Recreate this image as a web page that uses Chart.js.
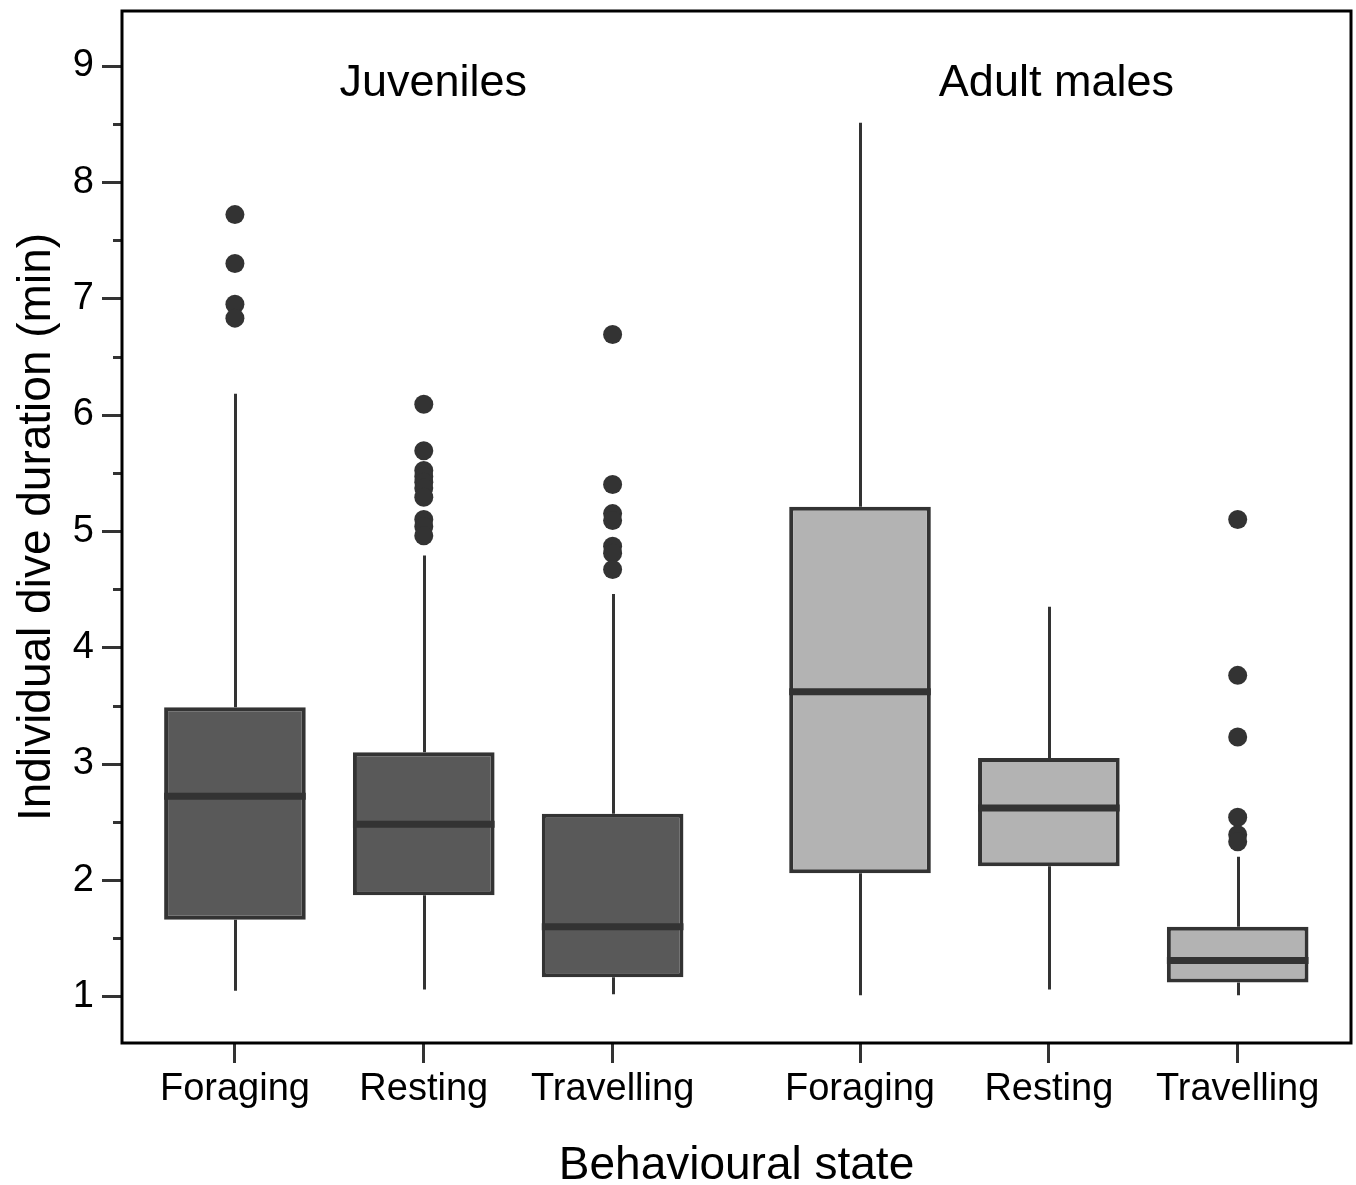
<!DOCTYPE html>
<html>
<head>
<meta charset="utf-8">
<script src="https://cdn.jsdelivr.net/npm/chart.js@4.4.1/dist/chart.umd.min.js"></script>
<style>
  html, body { margin: 0; padding: 0; background: #ffffff; }
  #wrap { width: 1356px; height: 1185px; }
</style>
</head>
<body>
<div id="wrap"><canvas id="c" width="1356" height="1185"></canvas></div>
<script>
// Dive duration summaries per behavioural state, for two age/sex classes
const groups      = ['Juveniles', 'Adult males'];
const states      = ['Foraging', 'Resting', 'Travelling'];
const boxGroup    = [0, 0, 0, 1, 1, 1];
const boxState    = [0, 1, 2, 0, 1, 2];

const whiskerLow  = [1.05, 1.06, 1.02, 1.01, 1.06, 1.01];
const q1          = [1.66, 1.87, 1.165, 2.06, 2.12, 1.12];
const median      = [2.72, 2.48, 1.60, 3.62, 2.62, 1.31];
const q3          = [3.485, 3.10, 2.57, 5.21, 3.05, 1.60];
const whiskerHigh = [6.18, 4.79, 4.46, 8.51, 4.35, 2.20];
const outliers    = [
  [7.72, 7.30, 6.95, 6.83],
  [6.09, 5.69, 5.52, 5.47, 5.42, 5.37, 5.29, 5.10, 5.04, 4.96],
  [6.69, 5.40, 5.15, 5.09, 4.87, 4.81, 4.67],
  [],
  [],
  [5.10, 3.76, 3.23, 2.54, 2.39, 2.33]
];

const yTicks = [1, 1.5, 2, 2.5, 3, 3.5, 4, 4.5, 5, 5.5, 6, 6.5, 7, 7.5, 8, 8.5, 9];
const yTitle = 'Individual dive duration (min)';
const xTitle = 'Behavioural state';

// Slot positions along x: three boxes per group with a wider gap between groups
const GROUP_GAP = 0.31;
const slot = boxGroup.map((g, i) => g * (states.length + GROUP_GAP) + boxState[i]);

const groupFill = ['#595959', '#b3b3b3'];
const INK = '#333333';
const FONT = "'Liberation Sans', Arial, Helvetica, sans-serif";

const boxData = slot.map((x, i) => ({ x: x, y: [q1[i], q3[i]] }));
const outlierData = [];
outliers.forEach((list, i) => list.forEach(v => outlierData.push({ x: slot[i], y: v })));

const boxPlotParts = {
  id: 'boxPlotParts',
  beforeDatasetsDraw(chart) {
    const { ctx, scales: { x, y } } = chart;
    ctx.save();
    ctx.strokeStyle = INK;
    ctx.lineWidth = 3;
    ctx.lineCap = 'butt';
    slot.forEach((s, i) => {
      const px = Math.round(x.getPixelForValue(s)) + 0.5;
      ctx.beginPath();
      ctx.moveTo(px, y.getPixelForValue(whiskerLow[i]));
      ctx.lineTo(px, y.getPixelForValue(q1[i]));
      ctx.moveTo(px, y.getPixelForValue(q3[i]));
      ctx.lineTo(px, y.getPixelForValue(whiskerHigh[i]));
      ctx.stroke();
    });
    ctx.restore();
  },
  afterDatasetsDraw(chart) {
    const { ctx, scales: { y } } = chart;
    const meta = chart.getDatasetMeta(0);
    ctx.save();
    ctx.strokeStyle = INK;
    ctx.lineWidth = 7;
    meta.data.forEach((bar, i) => {
      const half = bar.width / 2;
      const py = y.getPixelForValue(median[i]);
      ctx.beginPath();
      ctx.moveTo(bar.x - half, py);
      ctx.lineTo(bar.x + half, py);
      ctx.stroke();
    });
    ctx.restore();
  },
  afterDraw(chart) {
    const { ctx, chartArea: a, scales: { x, y } } = chart;
    ctx.save();
    // y tick marks: long at whole minutes, short at half minutes
    ctx.strokeStyle = INK;
    ctx.lineWidth = 3;
    y.ticks.forEach(t => {
      const py = Math.round(y.getPixelForValue(t.value)) + 0.5;
      const len = Number.isInteger(t.value) ? 20 : 9;
      ctx.beginPath();
      ctx.moveTo(a.left - len, py);
      ctx.lineTo(a.left, py);
      ctx.stroke();
    });
    // panel frame
    ctx.strokeStyle = '#000000';
    ctx.lineWidth = 3;
    ctx.strokeRect(a.left, a.top, a.right - a.left, a.bottom - a.top);
    // group headings
    ctx.fillStyle = '#000000';
    ctx.font = '45px ' + FONT;
    ctx.textAlign = 'center';
    ctx.textBaseline = 'middle';
    const headX = [1.05, 4.35];
    groups.forEach((g, k) => {
      ctx.fillText(g, x.getPixelForValue(headX[k]), y.getPixelForValue(8.85));
    });
    ctx.restore();
  }
};

new Chart(document.getElementById('c'), {
  type: 'bar',
  data: {
    datasets: [
      {
        type: 'bar',
        data: boxData,
        backgroundColor: boxGroup.map(g => groupFill[g]),
        borderColor: INK,
        borderWidth: 4,
        borderSkipped: false,
        grouped: false,
        barPercentage: 0.75,
        categoryPercentage: 1.0
      },
      {
        type: 'scatter',
        data: outlierData,
        pointRadius: 9.5,
        pointBackgroundColor: INK,
        pointBorderWidth: 0,
        showLine: false
      }
    ]
  },
  plugins: [boxPlotParts],
  options: {
    responsive: false,
    animation: false,
    layout: { autoPadding: false, padding: { top: 11, right: 5, left: 0, bottom: 0 } },
    plugins: { legend: { display: false }, tooltip: { enabled: false } },
    scales: {
      x: {
        type: 'linear',
        offset: false,
        min: -0.598,
        max: 5.91,
        afterBuildTicks(scale) { scale.ticks = slot.map(v => ({ value: v })); },
        afterFit(scale) { scale.height = 142; scale.paddingLeft = 0; scale.paddingRight = 0; },
        ticks: {
          autoSkip: false,
          maxRotation: 0,
          padding: 4,
          color: '#000000',
          font: { family: FONT, size: 38 },
          callback(value) {
            const i = slot.findIndex(s => Math.abs(s - value) < 1e-6);
            return i >= 0 ? states[boxState[i]] : '';
          }
        },
        grid: { display: true, drawOnChartArea: false, offset: false, tickLength: 20, tickWidth: 3, tickColor: INK },
        border: { display: false },
        title: {
          display: true,
          text: xTitle,
          color: '#000000',
          font: { family: FONT, size: 46, lineHeight: 0.8 },
          padding: { top: 0, bottom: 0 }
        }
      },
      y: {
        type: 'linear',
        min: 0.6,
        max: 9.47,
        afterBuildTicks(scale) { scale.ticks = yTicks.map(v => ({ value: v })); },
        afterFit(scale) { scale.width = 122; scale.paddingTop = 0; scale.paddingBottom = 0; },
        ticks: {
          autoSkip: false,
          padding: 8,
          color: '#000000',
          font: { family: FONT, size: 38 },
          callback(value) { return Number.isInteger(value) ? String(value) : ''; }
        },
        grid: { display: true, drawOnChartArea: false, tickLength: 20, tickColor: 'rgba(0,0,0,0)' },
        border: { display: false },
        title: {
          display: true,
          text: yTitle,
          color: '#000000',
          font: { family: FONT, size: 46, lineHeight: 1.0 },
          padding: { top: 14, bottom: 0 }
        }
      }
    }
  }
});
</script>
</body>
</html>
